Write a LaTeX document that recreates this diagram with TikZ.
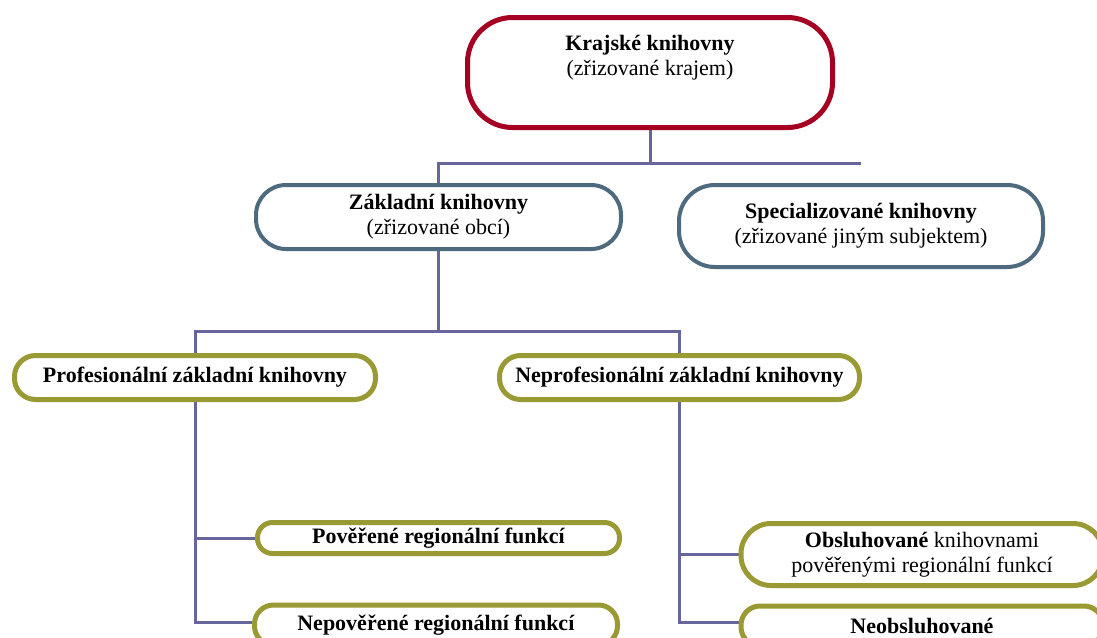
\documentclass[tikz,border=0pt]{standalone}
\usepackage{fontspec}
\setmainfont{Liberation Serif}
\usetikzlibrary{backgrounds}
\definecolor{conn}{HTML}{66669A}
\definecolor{crim}{HTML}{A50021}
\definecolor{slate}{HTML}{4E6A7E}
\definecolor{olive}{HTML}{9A9A35}
\tikzset{
  pill/.style={draw, fill=white, rectangle, inner sep=0pt, align=center},
  redbox/.style={pill, draw=crim, line width=5pt, rounded corners=45pt},
  bluebox/.style={pill, draw=slate, line width=4pt},
  olivebox/.style={pill, draw=olive, line width=5pt},
  lbl/.style={align=center, inner sep=0pt, font=\fontsize{22}{25}\selectfont},
  conline/.style={draw=conn, line width=3pt}
}
\begin{document}
\begin{tikzpicture}[x=1pt,y=-1pt]
\useasboundingbox (0,0) rectangle (1097,637);
\clip (0,0) rectangle (1097,637);
% boxes
\node[redbox, minimum width=365pt, minimum height=110pt] (kraj) at (650,72.5) {};
\node[lbl] (krajt) at (650,58) {\textbf{Krajské knihovny}\\(zřizované krajem)};
\node[bluebox, minimum width=365pt, minimum height=64pt, rounded corners=30pt, lbl] (zakl) at (438.5,217) {\textbf{Základní knihovny}\\(zřizované obcí)};
\node[bluebox, minimum width=364pt, minimum height=82pt, rounded corners=36pt, lbl] (spec) at (861,226) {\textbf{Specializované knihovny}\\(zřizované jiným subjektem)};
\node[olivebox, minimum width=361pt, minimum height=44pt, rounded corners=21pt, lbl] (prof) at (195,377.5) {\textbf{Profesionální základní knihovny}};
\node[olivebox, minimum width=360pt, minimum height=44pt, rounded corners=21pt, lbl] (neprof) at (679.5,377.5) {\textbf{Neprofesionální základní knihovny}};
\node[olivebox, minimum width=362pt, minimum height=31pt, rounded corners=15pt, lbl] (pover) at (438.5,538) {\textbf{Pověřené regionální funkcí}};
\node[olivebox, minimum width=363pt, minimum height=40pt, rounded corners=19pt, lbl] (nepover) at (436,625) {\textbf{Nepověřené regionální funkcí}};
\node[olivebox, minimum width=362pt, minimum height=62pt, rounded corners=30pt, lbl] (obsl) at (922,554.5) {\textbf{Obsluhované} knihovnami\\pověřenými regionální funkcí};
\node[olivebox, minimum width=362pt, minimum height=40pt, rounded corners=19pt, lbl] (neobs) at (922,626) {\textbf{Neobsluhované}};
% connectors
\coordinate (h1) at (0,163);
\coordinate (h2) at (0,331);
\coordinate (h3) at (0,622);
\begin{scope}[on background layer]
\fill[white] (0,0) rectangle (1097,637);
\draw[conline] (kraj.south) -- (kraj.south |- h1);
\draw[conline] (zakl.north) |- (spec.north |- h1);
\draw[conline] (zakl.south) -- (zakl.south |- h2);
\draw[conline] (prof.north) |- (zakl.south |- h2) -| (neprof.north);
\draw[conline] (prof.south) |- (nepover.west |- h3);
\draw[conline] (prof.south |- pover.west) -- (pover.west);
\draw[conline] (neprof.south) |- (neobs.west |- h3);
\draw[conline] (neprof.south |- obsl.west) -- (obsl.west);
\end{scope}
\end{tikzpicture}
\end{document}
